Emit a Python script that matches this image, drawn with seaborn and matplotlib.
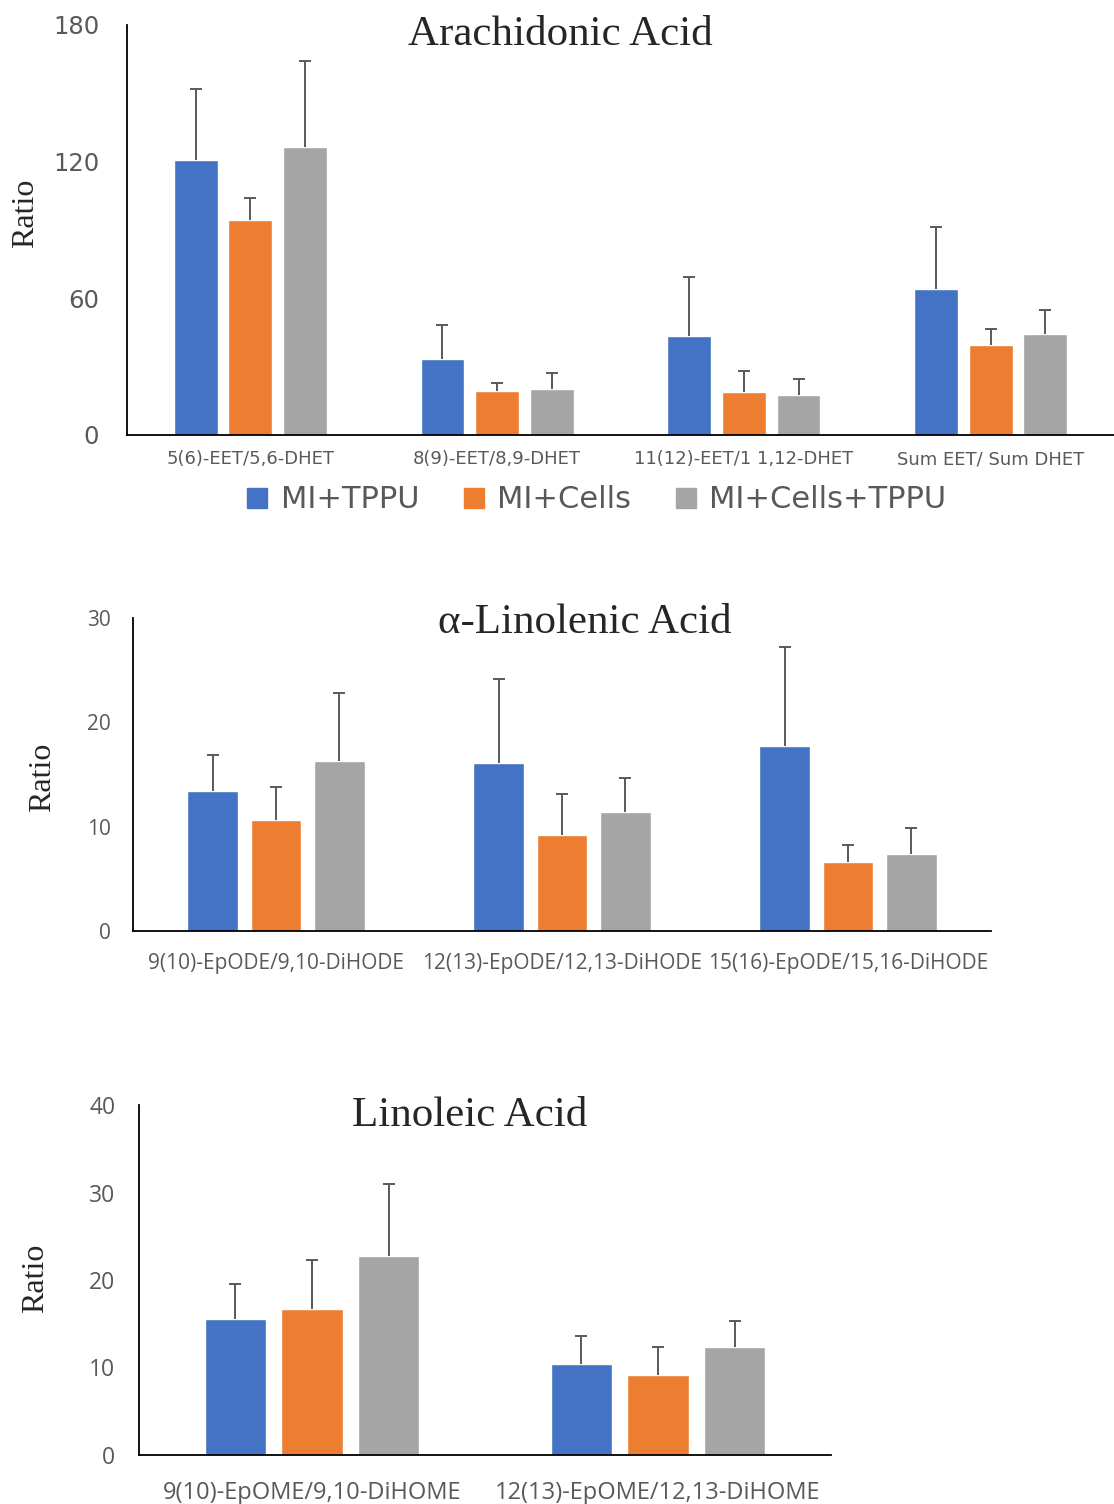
import pandas as pd
import matplotlib.pyplot as plt
import seaborn as sns

# Grupos y colores
groups = ['MI+TPPU', 'MI+Cells', 'MI+Cells+TPPU']
colors = ['#4472C4', '#ED7D31', '#A5A5A5']

# Arachidonic Acid
aa_labels = ['5(6)-EET/5,6-DHET', '8(9)-EET/8,9-DHET', '11(12)-EET/1 1,12-DHET', 'Sum EET/ Sum DHET']
aa_tppu = [120.6, 33.3, 43.5, 64.2]
aa_cells = [94.6, 19.4, 18.8, 39.7]
aa_cells_tppu = [126.4, 20.3, 17.5, 44.2]
aa_err_tppu = [31.5, 15.1, 25.7, 27.0]
aa_err_cells = [9.5, 3.4, 9.1, 6.9]
aa_err_cells_tppu = [38.0, 7.0, 6.9, 10.7]

# alpha-Linolenic Acid
ala_labels = ['9(10)-EpODE/9,10-DiHODE', '12(13)-EpODE/12,13-DiHODE', '15(16)-EpODE/15,16-DiHODE']
ala_tppu = [13.4, 16.1, 17.7]
ala_cells = [10.6, 9.2, 6.6]
ala_cells_tppu = [16.25, 11.4, 7.4]
ala_err_tppu = [3.5, 8.1, 9.5]
ala_err_cells = [3.2, 3.9, 1.6]
ala_err_cells_tppu = [6.55, 3.3, 2.5]

# Linoleic Acid
la_labels = ['9(10)-EpOME/9,10-DiHOME', '12(13)-EpOME/12,13-DiHOME']
la_tppu = [15.6, 10.4]
la_cells = [16.7, 9.2]
la_cells_tppu = [22.8, 12.3]
la_err_tppu = [3.9, 3.2]
la_err_cells = [5.6, 3.2]
la_err_cells_tppu = [8.2, 3.0]

sns.set_style('white')

W, H = 1114, 1504
fig = plt.figure(figsize=(W / 100, H / 100), dpi=100)


def px_axes(left, right, top, bottom):
    return fig.add_axes([left / W, 1 - bottom / H, (right - left) / W, (bottom - top) / H])


def long_df(labels, series):
    rows = []
    for g, vals in zip(groups, series):
        for lab, v in zip(labels, vals):
            rows.append({'label': lab, 'group': g, 'value': v})
    return pd.DataFrame(rows)


def panel(ax, labels, series, errs, yticks, tickfont, ysize, xsize, ypad, xpad):
    df = long_df(labels, series)
    sns.barplot(data=df, x='label', y='value', hue='group', palette=colors,
                width=0.665, gap=0.2, errorbar=None, saturation=1,
                legend=False, ax=ax)
    for cont, err in zip(ax.containers, errs):
        xs = [p.get_x() + p.get_width() / 2 for p in cont]
        ys = [p.get_height() for p in cont]
        eb = ax.errorbar(xs, ys, yerr=[[0] * len(err), err], fmt='none',
                         ecolor='#595959', elinewidth=1.4, capsize=4.5, capthick=1.4)
        eb[1][0].set_visible(False)  # sin tapa inferior
    n = len(labels)
    ax.set_xlim(-0.5, n - 0.5)
    ax.set_ylim(yticks[0], yticks[-1])
    ax.set_yticks(yticks, labels=[str(t) for t in yticks],
                  fontfamily=tickfont, fontsize=ysize, color='#595959')
    ax.set_xticks(range(n), labels=labels, fontfamily=tickfont, fontsize=xsize, color='#595959')
    ax.set_xticks([i - 0.5 for i in range(n + 1)], minor=True)
    ax.tick_params(axis='x', which='major', length=0, pad=xpad)
    ax.tick_params(axis='x', which='minor', length=7, width=1.2, direction='out', color='black')
    ax.tick_params(axis='y', length=7, width=1.2, direction='out', color='black', pad=ypad)
    ax.set_xlabel('')
    ax.set_ylabel('')
    for s in ['top', 'right']:
        ax.spines[s].set_visible(False)
    for s in ['left', 'bottom']:
        ax.spines[s].set_color('black')
        ax.spines[s].set_linewidth(1.3)


ax1 = px_axes(127, 1114, 25, 435)
panel(ax1, aa_labels, [aa_tppu, aa_cells, aa_cells_tppu],
      [aa_err_tppu, aa_err_cells, aa_err_cells_tppu],
      [0, 60, 120, 180], 'DejaVu Sans', 17.5, 13, 13, 11)

ax2 = px_axes(133, 991, 618, 931)
panel(ax2, ala_labels, [ala_tppu, ala_cells, ala_cells_tppu],
      [ala_err_tppu, ala_err_cells, ala_err_cells_tppu],
      [0, 10, 20, 30], 'Open Sans', 15, 15, 9, 16)

ax3 = px_axes(139, 831, 1105, 1455)
panel(ax3, la_labels, [la_tppu, la_cells, la_cells_tppu],
      [la_err_tppu, la_err_cells, la_err_cells_tppu],
      [0, 10, 20, 30, 40], 'Open Sans', 16.5, 17, 10, 19)

# Titulos
serif = 'Liberation Serif'
fig.text(560 / W, 1 - 35 / H, 'Arachidonic Acid', family=serif, size=31, ha='center', va='center')
fig.text(585 / W, 1 - 623 / H, 'α-Linolenic Acid', family=serif, size=31, ha='center', va='center')
fig.text(470 / W, 1 - 1116 / H, 'Linoleic Acid', family=serif, size=31, ha='center', va='center')

# Etiquetas del eje y
fig.text(26 / W, 1 - 213 / H, 'Ratio', family=serif, size=23, rotation=90, ha='center', va='center')
fig.text(43 / W, 1 - 777 / H, 'Ratio', family=serif, size=23, rotation=90, ha='center', va='center')
fig.text(36 / W, 1 - 1278 / H, 'Ratio', family=serif, size=23, rotation=90, ha='center', va='center')

# Leyenda
handles = [plt.Rectangle((0, 0), 1, 1, color=c) for c in colors]
leg = fig.legend(handles, groups, loc='center', bbox_to_anchor=(597 / W, 1 - 500 / H),
                 ncol=3, frameon=False, handlelength=0.65, handleheight=0.65,
                 handletextpad=0.45, columnspacing=1.45,
                 prop={'family': 'DejaVu Sans', 'size': 22})
for t in leg.get_texts():
    t.set_color('#595959')

fig.savefig('out.png', dpi=100)
